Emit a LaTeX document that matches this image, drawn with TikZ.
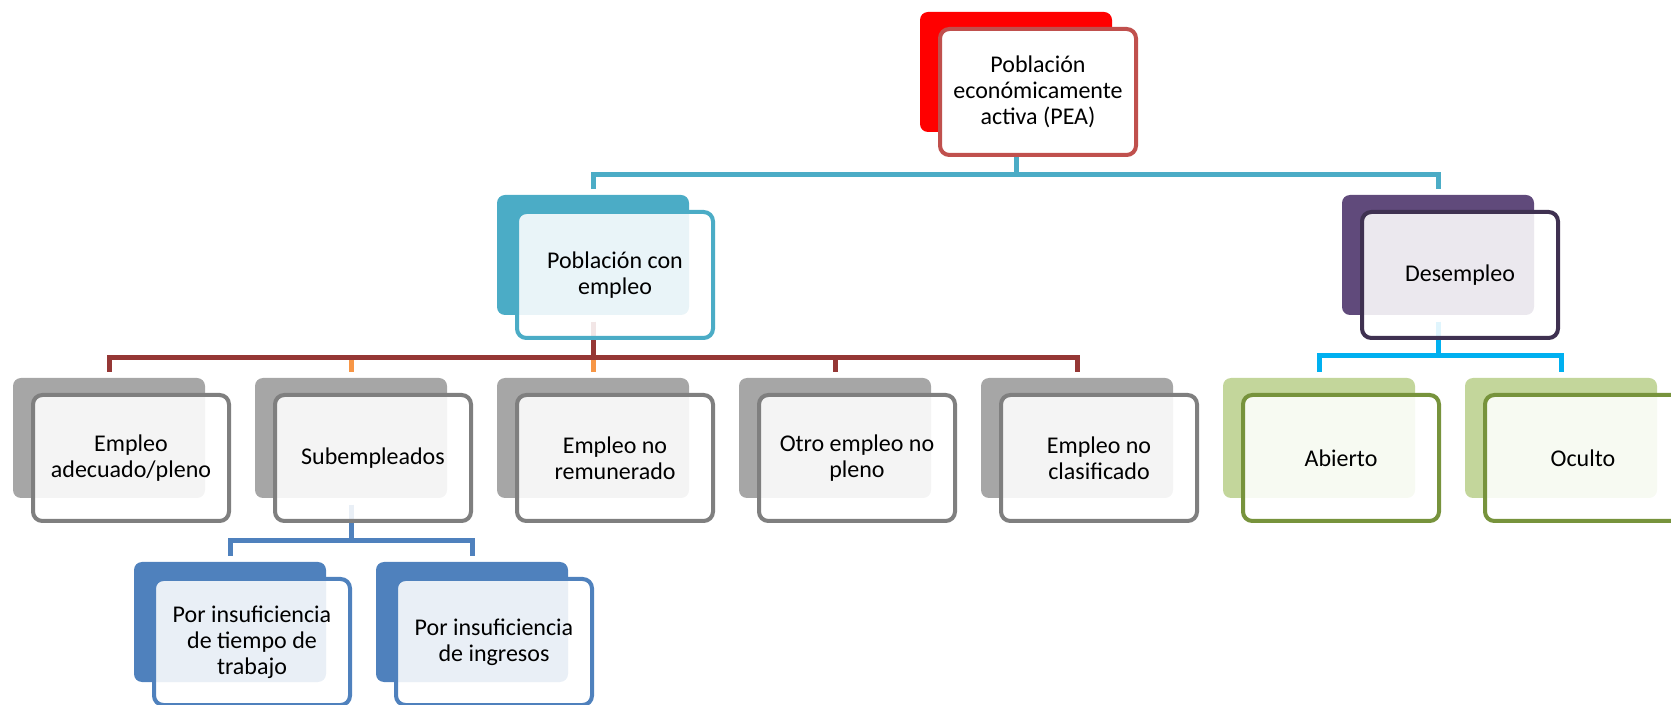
\documentclass[tikz,border=0pt]{standalone}
\usepackage{fontspec}
\setmainfont{Carlito}
\definecolor{pearedfill}{HTML}{FF0000}
\definecolor{pearedline}{HTML}{C0504D}
\definecolor{cyanc}{HTML}{4BACC6}
\definecolor{purplefill}{HTML}{604A7B}
\definecolor{purpleline}{HTML}{3F3151}
\definecolor{grayfill}{HTML}{A6A6A6}
\definecolor{grayline}{HTML}{7F7F7F}
\definecolor{greenfill}{HTML}{C3D69B}
\definecolor{greenline}{HTML}{77933C}
\definecolor{bluec}{HTML}{4F81BD}
\definecolor{darkredc}{HTML}{953735}
\definecolor{orangec}{HTML}{F79646}
\definecolor{skyc}{HTML}{00B0F0}
\tikzset{
  backbox/.style={rounded corners=6pt, minimum width=144pt, minimum height=90pt, inner sep=0pt, fill=#1},
  frontbox/.style={rounded corners=7pt, minimum width=147pt, minimum height=94.5pt, inner sep=0pt,
    draw=#1, line width=3pt, fill=white, fill opacity=0.88, text opacity=1, draw opacity=1,
    align=center, font=\fontsize{18pt}{19.5pt}\selectfont},
  conn/.style={line width=3.75pt, draw=#1, shorten <=5pt, shorten >=4.5pt},
}
\begin{document}
\begin{tikzpicture}[x=0.75pt, y=-0.75pt]
\useasboundingbox (0,0) rectangle (1671,705);
% back (filled) boxes
\node[backbox=pearedfill] (pea-b) at (1016,72) {};
\node[backbox=cyanc] (con-b) at (593,255) {};
\node[backbox=purplefill] (des-b) at (1438,255) {};
\node[backbox=grayfill] (g1-b) at (109,438) {};
\node[backbox=grayfill] (g2-b) at (351,438) {};
\node[backbox=grayfill] (g3-b) at (593,438) {};
\node[backbox=grayfill] (g4-b) at (835,438) {};
\node[backbox=grayfill] (g5-b) at (1077,438) {};
\node[backbox=greenfill] (v1-b) at (1319,438) {};
\node[backbox=greenfill] (v2-b) at (1561,438) {};
\node[backbox=bluec] (b1-b) at (230,622) {};
\node[backbox=bluec] (b2-b) at (472,622) {};
% connectors
\draw[conn=cyanc] (pea-b.south) -- ++(0,42) -| (con-b.north);
\draw[conn=cyanc] (pea-b.south) -- ++(0,42) -| (des-b.north);
\draw[conn=orangec] (con-b.south) -- ++(0,42) -| (g2-b.north);
\draw[conn=orangec] (con-b.south) -- ++(0,42) -| (g3-b.north);
\draw[conn=darkredc] (con-b.south) -- ++(0,42) -| (g1-b.north);
\draw[conn=darkredc] (con-b.south) -- ++(0,42) -| (g4-b.north);
\draw[conn=darkredc] (con-b.south) -- ++(0,42) -| (g5-b.north);
\draw[conn=skyc] (des-b.south) -- ++(0,40) -| (v1-b.north);
\draw[conn=skyc] (des-b.south) -- ++(0,40) -| (v2-b.north);
\draw[conn=bluec] (g2-b.south) -- ++(0,42) -| (b1-b.north);
\draw[conn=bluec] (g2-b.south) -- ++(0,42) -| (b2-b.north);
% front (outlined) boxes with text
\node[frontbox=pearedline, fill opacity=1] (pea) at ([shift={(22,20)}]pea-b.center) {Población\\económicamente\\activa (PEA)};
\node[frontbox=cyanc] (con) at ([shift={(22,20)}]con-b.center) {Población con\\empleo};
\node[frontbox=purpleline] (des) at ([shift={(22,20)}]des-b.center) {Desempleo};
\node[frontbox=grayline] (g1) at ([shift={(22,20)}]g1-b.center) {Empleo\\adecuado/pleno};
\node[frontbox=grayline] (g2) at ([shift={(22,20)}]g2-b.center) {Subempleados};
\node[frontbox=grayline] (g3) at ([shift={(22,20)}]g3-b.center) {Empleo no\\remunerado};
\node[frontbox=grayline] (g4) at ([shift={(22,20)}]g4-b.center) {Otro empleo no\\pleno};
\node[frontbox=grayline] (g5) at ([shift={(22,20)}]g5-b.center) {Empleo no\\clasificado};
\node[frontbox=greenline] (v1) at ([shift={(22,20)}]v1-b.center) {Abierto};
\node[frontbox=greenline] (v2) at ([shift={(22,20)}]v2-b.center) {Oculto};
\node[frontbox=bluec] (b1) at ([shift={(22,20)}]b1-b.center) {Por insuficiencia\\de tiempo de\\trabajo};
\node[frontbox=bluec] (b2) at ([shift={(22,20)}]b2-b.center) {Por insuficiencia\\de ingresos};
\end{tikzpicture}
\end{document}
